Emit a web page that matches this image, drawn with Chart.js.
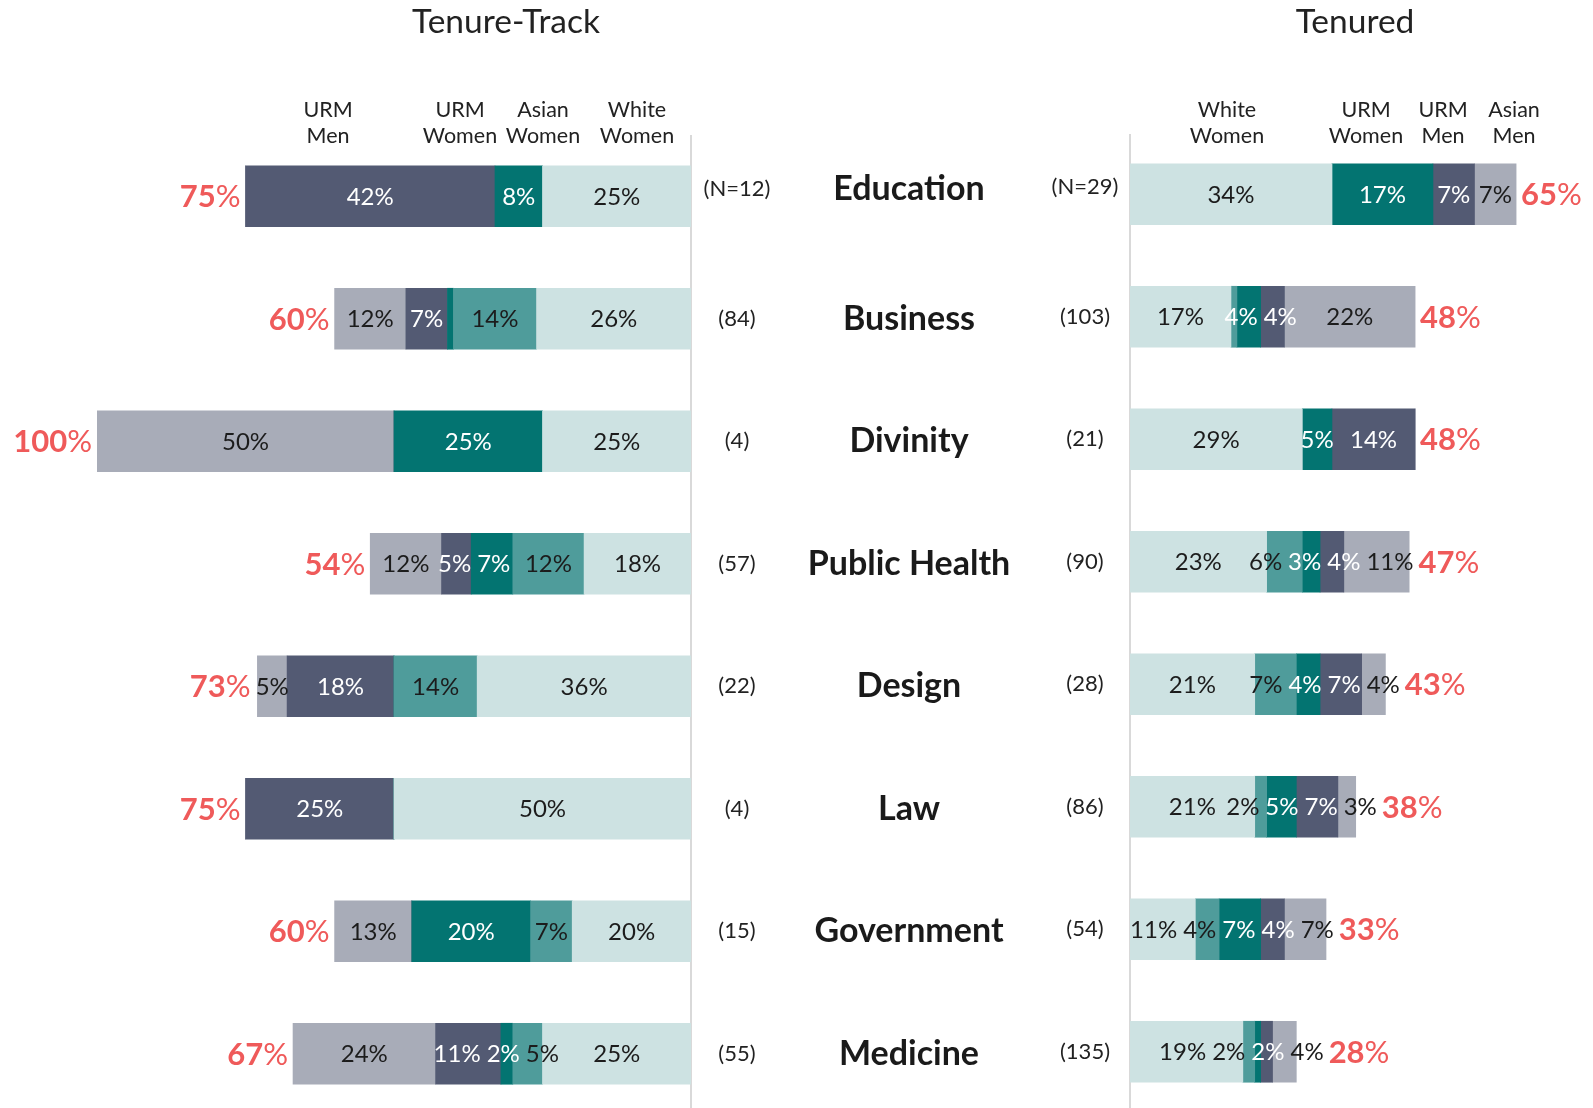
<!DOCTYPE html>
<html>
<head>
<meta charset="utf-8">
<script src="https://cdn.jsdelivr.net/npm/chart.js@4.4.0/dist/chart.umd.min.js"></script>
<style>
  html, body { margin: 0; padding: 0; background: #fff; }
  #wrap { position: relative; width: 1593px; height: 1108px; overflow: hidden; }
  canvas { position: absolute; top: 0; left: 0; }
</style>
</head>
<body>
<div id="wrap">
  <canvas id="track" width="1593" height="1115"></canvas>
  <canvas id="tenured" width="1724" height="1115"></canvas>
</div>
<script>
const categories = ['Education', 'Business', 'Divinity', 'Public Health', 'Design', 'Law', 'Government', 'Medicine'];
const groups = ['White Women', 'Asian Women', 'URM Women', 'URM Men', 'Asian Men'];

const trackTitle = 'Tenure-Track';
const trackHeaders = [['URM', 'Men'], ['URM', 'Women'], ['Asian', 'Women'], ['White', 'Women']];
const trackN = ['(N=12)', '(84)', '(4)', '(57)', '(22)', '(4)', '(15)', '(55)'];
const trackWhiteWomen = [25, 26, 25, 18, 36, 50, 20, 25];
const trackAsianWomen = [0, 14, 0, 12, 14, 0, 7, 5];
const trackUrmWomen = [8, 1, 25, 7, 0, 0, 20, 2];
const trackUrmMen = [42, 7, 0, 5, 18, 25, 0, 11];
const trackAsianMen = [0, 12, 50, 12, 5, 0, 13, 24];
const trackTotals = [75, 60, 100, 54, 73, 75, 60, 67];

const tenuredTitle = 'Tenured';
const tenuredHeaders = [['White', 'Women'], ['URM', 'Women'], ['URM', 'Men'], ['Asian', 'Men']];
const tenuredN = ['(N=29)', '(103)', '(21)', '(90)', '(28)', '(86)', '(54)', '(135)'];
const tenuredWhiteWomen = [34, 17, 29, 23, 21, 21, 11, 19];
const tenuredAsianWomen = [0, 1, 0, 6, 7, 2, 4, 2];
const tenuredUrmWomen = [17, 4, 5, 3, 4, 5, 7, 1];
const tenuredUrmMen = [7, 4, 14, 4, 7, 7, 4, 2];
const tenuredAsianMen = [7, 22, 0, 11, 4, 3, 7, 4];
const tenuredTotals = [65, 48, 48, 47, 43, 38, 33, 28];

// styling / layout
const FONT = 'Lato, "Open Sans", sans-serif';
const colors = ['#cde2e2', '#4f9c9b', '#037471', '#535a73', '#a8acb8'];
const labelColors = ['#1c1c1c', '#1c1c1c', '#ffffff', '#ffffff', '#1c1c1c'];
const RED = '#ef5a5a';
const TEXT = '#222222';

function makeSets(series) {
  return series.map((data, i) => ({
    label: groups[i],
    data: data,
    backgroundColor: colors[i],
    labelColor: labelColors[i],
    borderWidth: 0,
    barThickness: 61,
  }));
}

function baseOptions(reverse, padding) {
  return {
    indexAxis: 'y',
    responsive: false,
    animation: false,
    devicePixelRatio: 1,
    layout: { padding: padding },
    plugins: { legend: { display: false }, tooltip: { enabled: false } },
    scales: {
      x: { display: false, stacked: true, min: 0, max: 100, reverse: reverse },
      y: { display: false, stacked: true, offset: true }
    }
  };
}

// draws the percent labels inside each segment, then the red total
function segmentLabels(side, totals) {
  return {
    id: 'segLabels',
    afterDatasetsDraw(chart) {
      const ctx = chart.ctx;
      ctx.save();
      ctx.textBaseline = 'middle';
      for (let i = 0; i < chart.data.labels.length; i++) {
        const items = [];
        let y = 0, outer = null;
        chart.data.datasets.forEach((ds, d) => {
          const bar = chart.getDatasetMeta(d).data[i];
          y = bar.y;
          const v = ds.data[i];
          if (!v) return;
          outer = bar.x;
          if (v < 2) return;
          ctx.font = '24px ' + FONT;
          const txt = v + '%';
          items.push({ txt, cx: (bar.x + bar.base) / 2, w: ctx.measureText(txt).width, color: ds.labelColor });
        });
        items.sort((a, b) => a.cx - b.cx);
        // push overlapping labels apart
        for (let it = 0; it < 40; it++) {
          for (let k = 0; k < items.length - 1; k++) {
            const a = items[k], b = items[k + 1];
            const ov = (a.cx + a.w / 2 + 6) - (b.cx - b.w / 2);
            if (ov > 0) { a.cx -= ov / 2; b.cx += ov / 2; }
          }
        }
        ctx.textAlign = 'center';
        items.forEach(it => {
          ctx.fillStyle = it.color;
          ctx.font = '24px ' + FONT;
          ctx.fillText(it.txt, it.cx, y + 1);
        });

        // total
        const num = String(totals[i]);
        ctx.font = 'bold 31px ' + FONT;
        const nw = ctx.measureText(num).width;
        ctx.font = '31px ' + FONT;
        const pw = ctx.measureText('%').width;
        ctx.fillStyle = RED;
        ctx.textAlign = 'left';
        if (side === 'left') {
          let edge = outer;
          items.forEach(it => { edge = Math.min(edge, it.cx - it.w / 2); });
          const end = edge - 5;
          ctx.font = '31px ' + FONT;
          ctx.fillText('%', end - pw, y + 1);
          ctx.font = 'bold 31px ' + FONT;
          ctx.fillText(num, end - pw - nw, y + 1);
        } else {
          let edge = outer;
          items.forEach(it => { edge = Math.max(edge, it.cx + it.w / 2); });
          const start = edge + 5;
          ctx.font = 'bold 31px ' + FONT;
          ctx.fillText(num, start, y + 1);
          ctx.font = '31px ' + FONT;
          ctx.fillText('%', start + nw, y + 1);
        }
      }
      ctx.restore();
    }
  };
}

// axis line, titles, column headers, N labels, category names
function decor(cfg) {
  return {
    id: 'decor',
    beforeDatasetsDraw(chart) {
      const ctx = chart.ctx;
      const x0 = chart.scales.x.getPixelForValue(0);
      ctx.save();
      ctx.strokeStyle = '#d9d9d9';
      ctx.lineWidth = 2;
      ctx.beginPath();
      ctx.moveTo(x0, cfg.lineTop);
      ctx.lineTo(x0, chart.height);
      ctx.stroke();
      ctx.restore();
    },
    afterDraw(chart) {
      const ctx = chart.ctx;
      const ys = chart.scales.y;
      ctx.save();
      ctx.fillStyle = TEXT;
      ctx.textAlign = 'center';
      ctx.textBaseline = 'middle';
      ctx.font = '33.5px ' + FONT;
      ctx.fillText(cfg.title, cfg.titleX, 22);
      ctx.font = '21.5px ' + FONT;
      cfg.headers.forEach((h, k) => {
        ctx.fillText(h[0], cfg.headerX[k], 110);
        ctx.fillText(h[1], cfg.headerX[k], 136);
      });
      ctx.font = '22px ' + FONT;
      cfg.nLabels.forEach((t, i) => {
        ctx.fillText(t, cfg.nX, ys.getPixelForValue(i) - (i === 0 ? 7 : 0));
      });
      if (cfg.names) {
        ctx.font = 'bold 34px ' + FONT;
        ctx.fillStyle = '#1a1a1a';
        categories.forEach((c, i) => {
          ctx.fillText(c, 909, ys.getPixelForValue(i) - (i === 0 ? 7 : 0));
        });
      }
      ctx.restore();
    }
  };
}

new Chart(document.getElementById('track'), {
  type: 'bar',
  data: {
    labels: categories,
    datasets: makeSets([trackWhiteWomen, trackAsianWomen, trackUrmWomen, trackUrmMen, trackAsianMen])
  },
  options: baseOptions(true, { left: 97, right: 902, top: 135, bottom: 0 }),
  plugins: [
    segmentLabels('left', trackTotals),
    decor({ title: trackTitle, titleX: 506, headers: trackHeaders, headerX: [328, 460, 543, 637],
            nLabels: trackN, nX: 737, lineTop: 135, names: true })
  ]
});

new Chart(document.getElementById('tenured'), {
  type: 'bar',
  data: {
    labels: categories,
    datasets: makeSets([tenuredWhiteWomen, tenuredAsianWomen, tenuredUrmWomen, tenuredUrmMen, tenuredAsianMen])
  },
  options: baseOptions(false, { left: 1130, right: 0, top: 133, bottom: 2 }),
  plugins: [
    segmentLabels('right', tenuredTotals),
    decor({ title: tenuredTitle, titleX: 1355, headers: tenuredHeaders, headerX: [1227, 1366, 1443, 1514],
            nLabels: tenuredN, nX: 1085, lineTop: 134, names: false })
  ]
});
</script>
</body>
</html>
